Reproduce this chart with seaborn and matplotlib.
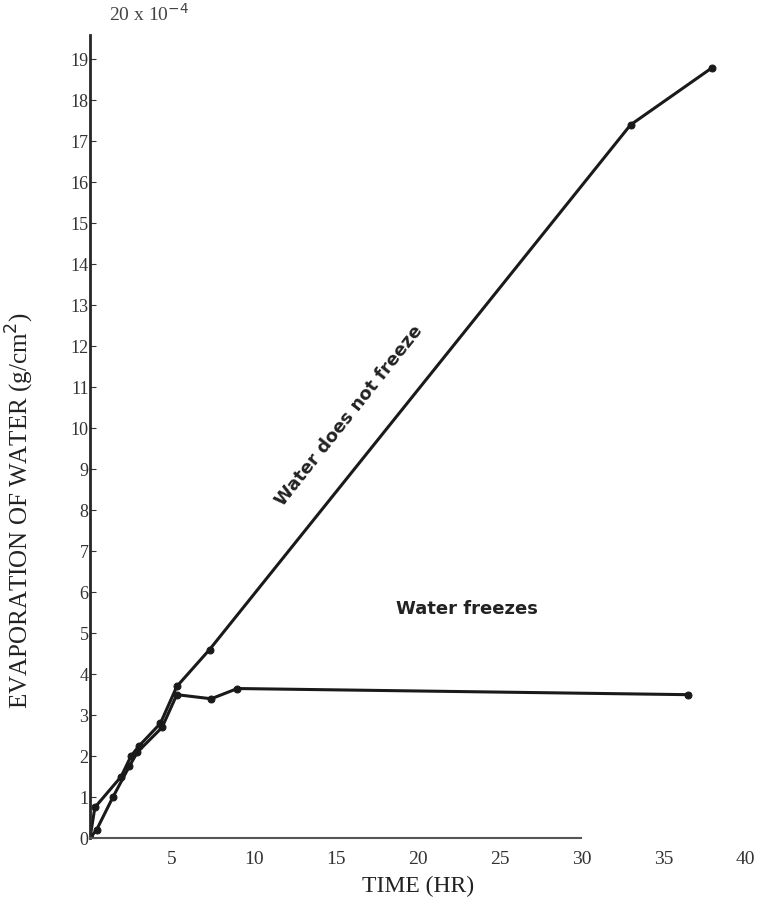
import pandas as pd
import matplotlib
matplotlib.use("Agg")
import matplotlib.pyplot as plt
import seaborn as sns

# time (hr) and evaporation (x 1e-4 g/cm2)
nofreeze_t = [0, 0.3, 1.9, 2.5, 3.0, 4.3, 5.3, 7.3, 33.0, 38.0]
nofreeze_y = [0, 0.75, 1.5, 2.0, 2.25, 2.8, 3.7, 4.6, 17.4, 18.8]
freeze_t = [0, 0.4, 1.4, 2.4, 2.9, 4.4, 5.3, 7.4, 9.0, 36.5]
freeze_y = [0, 0.2, 1.0, 1.75, 2.1, 2.7, 3.5, 3.4, 3.65, 3.5]

x_ticks = [5, 10, 15, 20, 25, 30, 35, 40]
y_ticks = list(range(0, 20))

df = pd.concat([
    pd.DataFrame({"t": nofreeze_t, "evap": nofreeze_y, "run": "Water does not freeze"}),
    pd.DataFrame({"t": freeze_t, "evap": freeze_y, "run": "Water freezes"}),
])

sns.set_style("ticks")
plt.rcParams["font.family"] = ["Liberation Serif", "DejaVu Serif"]

fig = plt.figure(figsize=(7.69, 9.16), dpi=100)
ax = fig.add_axes([0.117, 0.085, 0.852, 0.895])

for name, g in df.groupby("run", sort=False):
    sns.lineplot(data=g, x="t", y="evap", sort=False, estimator=None, ax=ax,
                 color="#1a1a1a", lw=2.2, marker="o", ms=5, mec="#1a1a1a")

ax.set_xlim(0, 40)
ax.set_ylim(0, 20)
ax.set_xticks(x_ticks)
ax.set_xticklabels([str(v) for v in x_ticks])
ax.set_yticks(y_ticks)
ax.set_yticklabels([str(v) for v in y_ticks])
ax.tick_params(axis="x", length=0, labelsize=14, pad=9, colors="#333333")
ax.tick_params(axis="y", direction="in", length=4, labelsize=13, pad=1, colors="#333333")

sns.despine(ax=ax)
ax.spines["left"].set_bounds(0, 19.6)
ax.spines["left"].set_linewidth(2)
ax.spines["bottom"].set_bounds(0, 30)
ax.spines["bottom"].set_linewidth(1.5)
ax.spines["bottom"].set_color("#555555")

# scale factor written at the top of the axis
ax.text(3.6, 20.1, "20 x 10$^{-4}$", ha="center", va="center", fontsize=14, color="#444444",
        clip_on=False)

ax.set_xlabel("TIME (HR)", fontsize=17, color="#222222", labelpad=6)
ax.set_ylabel("EVAPORATION OF WATER (g/cm$^2$)", fontsize=18, color="#222222")
ax.yaxis.set_label_coords(-0.082, 0.40)

ax.text(15.8, 10.3, "Water does not freeze", rotation=51.5, ha="center", va="center",
        fontsize=13, fontweight="bold", family=["DejaVu Sans"], color="#222222")
ax.text(23.0, 5.6, "Water freezes", ha="center", va="center",
        fontsize=13, fontweight="bold", family=["DejaVu Sans"], color="#222222")

fig.savefig("out.png", dpi=100)
